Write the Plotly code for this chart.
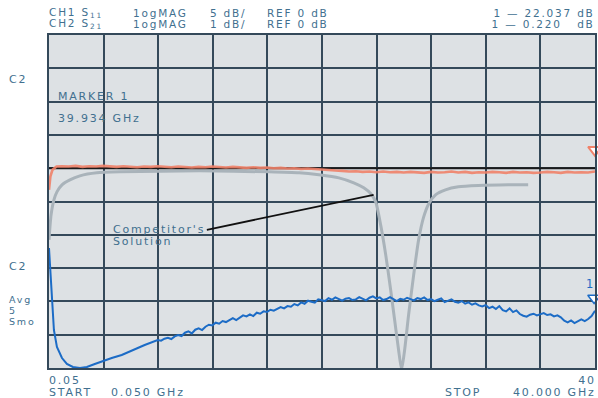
import plotly.graph_objects as go

# ---------------- data (x in GHz, y in screen divisions 0..10) ----------------
ref_level_div = 6.0

blue_x_start = [0.05, 0.12, 0.2, 0.27, 0.41, 0.63, 1.0, 1.36, 1.8, 2.31, 2.82, 3.4, 3.99, 4.64, 5.37, 6.17, 7.05]
blue_y_start = [3.60, 3.09, 2.49, 1.89, 1.14, 0.63, 0.30, 0.12, 0.03, 0.0, 0.03, 0.12, 0.21, 0.30, 0.39, 0.54, 0.69]
blue_sweep_start, blue_sweep_step = 8.0, 0.25
blue_y_sweep = [
    0.84, 0.82, 0.88, 0.91, 0.87, 0.95, 0.99, 0.96,
    1.06, 1.10, 1.04, 1.15, 1.19, 1.14, 1.24, 1.30,
    1.28, 1.36, 1.33, 1.41, 1.38, 1.45, 1.50, 1.44,
    1.52, 1.58, 1.55, 1.61, 1.56, 1.66, 1.63, 1.70,
    1.68, 1.75, 1.72, 1.78, 1.83, 1.79, 1.86, 1.84,
    1.92, 1.88, 1.97, 1.93, 2.02, 1.99, 1.96, 2.06,
    2.03, 2.01, 2.10, 2.05, 2.12, 2.07, 2.02, 2.08,
    2.10, 2.04, 2.06, 2.13, 2.08, 2.03, 2.11, 2.15,
    2.09, 2.12, 2.04, 2.07, 2.13, 2.06, 2.01, 2.08,
    2.05, 2.11, 2.06, 2.03, 2.10, 2.07, 2.12, 2.04,
    2.07, 2.01, 2.05, 2.09, 1.98, 2.02, 2.06, 1.99,
    1.96, 2.01, 1.93, 1.97, 1.90, 1.94, 1.88, 1.85,
    1.89, 1.80, 1.84, 1.77, 1.86, 1.74, 1.70, 1.79,
    1.68, 1.73, 1.62, 1.57, 1.54, 1.60, 1.63, 1.58,
    1.62, 1.65, 1.59, 1.61, 1.55, 1.58, 1.52, 1.42,
    1.37, 1.43, 1.35, 1.40, 1.46, 1.41, 1.47, 1.56,
    1.72,
]

red_x_start = [0.05, 0.15, 0.3, 0.6]
red_y_start = [5.35, 5.75, 5.95, 6.05]
red_sweep_start, red_sweep_step = 1.0, 0.5
red_y_sweep = [
    6.06, 6.05, 6.07, 6.04, 6.06, 6.05, 6.07, 6.05,
    6.04, 6.06, 6.05, 6.03, 6.05, 6.04, 6.06, 6.04,
    6.03, 6.05, 6.04, 6.02, 6.04, 6.03, 6.05, 6.03,
    6.02, 6.04, 6.02, 6.01, 6.03, 6.01, 6.02, 6.00,
    6.01, 5.99, 6.00, 5.98, 5.99, 5.97, 5.96, 5.94,
    5.93, 5.92, 5.90, 5.91, 5.89, 5.90, 5.88, 5.90,
    5.88, 5.89, 5.87, 5.89, 5.88, 5.86, 5.89, 5.87,
    5.88, 5.90, 5.87, 5.89, 5.86, 5.88, 5.87, 5.89,
    5.88, 5.86, 5.89, 5.87, 5.88, 5.86, 5.87, 5.89,
    5.88, 5.86, 5.89, 5.87, 5.88, 5.87, 5.90,
]

gray_x = [0.05, 0.2, 0.41, 0.63, 1.0, 1.58, 2.31, 3.55, 5.2, 11.06, 16.16, 18.35, 19.8, 21.26, 22.35,
          23.08, 23.6, 23.96, 24.32, 24.69, 25.05, 25.34, 25.63, 25.85, 26.07, 26.36, 26.73, 27.09,
          27.46, 27.82, 28.33, 29.06, 30.0, 31.46, 33.65, 35.11]
gray_y = [3.85, 4.59, 5.05, 5.29, 5.50, 5.65, 5.77, 5.86, 5.89, 5.92, 5.89, 5.86, 5.80, 5.71, 5.56,
          5.41, 5.23, 4.98, 4.29, 3.39, 2.34, 1.44, 0.54, -0.05, 0.54, 1.59, 2.79, 3.84,
          4.53, 4.92, 5.20, 5.35, 5.44, 5.48, 5.50, 5.50]

marker_freq = 39.934
blue_marker_div = 2.10
red_marker_freq = 40.0
red_marker_div = 6.55
pointer_x = [11.6, 23.8]
pointer_y = [4.15, 5.2]

start_label, stop_label = "0.05", "40"

# ---------------- build ----------------
blue_x = blue_x_start + [blue_sweep_start + blue_sweep_step * i for i in range(len(blue_y_sweep))]
blue_y = blue_y_start + blue_y_sweep
red_x = red_x_start + [red_sweep_start + red_sweep_step * i for i in range(len(red_y_sweep))]
red_y = red_y_start + red_y_sweep

TXT = "#41708f"
GRID = "#34495a"
BG = "#dde1e4"
FONT = "DejaVu Sans"

L, R, T, B = 49, 597, 35, 368


def pxx(x):
    return (x - L) / (R - L)


def pyy(y):
    return (B - y) / (B - T)


fig = go.Figure()

fig.add_trace(go.Scatter(x=gray_x, y=gray_y, mode="lines", line=dict(color="#a9b3ba", width=3, shape="spline", smoothing=0.6),
                         hoverinfo="skip", showlegend=False))
fig.add_trace(go.Scatter(x=[0.05, 40], y=[ref_level_div, ref_level_div], mode="lines",
                         line=dict(color="#1b1b1b", width=2), showlegend=False))
fig.add_trace(go.Scatter(x=red_x, y=red_y, mode="lines", line=dict(color="#f0826a", width=2.6),
                         opacity=0.9, showlegend=False))
fig.add_trace(go.Scatter(x=blue_x, y=blue_y, mode="lines", line=dict(color="#1c6cc6", width=2.0),
                         showlegend=False))
fig.add_trace(go.Scatter(x=pointer_x, y=pointer_y, mode="lines", line=dict(color="#111111", width=1.8),
                         showlegend=False))
fig.add_trace(go.Scatter(x=[marker_freq], y=[blue_marker_div], mode="markers",
                         marker=dict(symbol="triangle-down", size=11, color="white",
                                     line=dict(color="#1c6cc6", width=1.5)),
                         cliponaxis=False, showlegend=False))
fig.add_trace(go.Scatter(x=[red_marker_freq], y=[red_marker_div], mode="markers",
                         marker=dict(symbol="triangle-down", size=12, color="white",
                                     line=dict(color="#f0826a", width=2)),
                         cliponaxis=False, showlegend=False))

# boxes that hide the grid behind the marker readout and the label
shapes = [
    dict(type="rect", xref="paper", yref="paper", x0=pxx(50.5), x1=pxx(157), y0=pyy(134), y1=pyy(69),
         fillcolor=BG, line=dict(width=0), layer="between"),
    dict(type="rect", xref="paper", yref="paper", x0=pxx(107), x1=pxx(211), y0=pyy(250), y1=pyy(204),
         fillcolor=BG, line=dict(width=0), layer="between"),
]

ann = []


def text(x, y, s, anchor="left", size=11, color=TXT):
    ann.append(dict(xref="paper", yref="paper", x=pxx(x), y=pyy(y), text=s, showarrow=False,
                    xanchor=anchor, yanchor="middle", font=dict(color=color, size=size, family=FONT)))


for y, ch, sub, scale, mark in [(13, "CH1", "11", "5 dB/", "1 \u2014 22.037 dB"),
                                (24, "CH2", "21", "1 dB/", "1 \u2014 0.220   dB")]:
    text(47, y, f"{ch} S<sub>{sub}</sub>", size=10.5)
    text(131, y, "1ogMAG", size=10.5)
    text(209, y, scale, size=10.5)
    text(266, y, "REF 0 dB", size=10.5)
    text(597, y, mark, anchor="right", size=10.5)

text(7, 80, "C2")
text(56, 96, "MARKER 1")
text(56, 118, "39.934 GHz")
text(7, 266, "C2")
text(7, 299, "Avg", size=9.5)
text(7, 310, "5", size=9.5)
text(7, 321, "Smo", size=9.5)
text(111, 229, "Competitor's")
text(111, 241, "Solution")
text(47, 380, start_label)
text(47, 392, "START")
text(109, 392, "0.050 GHz")
text(598, 380, stop_label, anchor="right")
text(444, 392, "STOP")
text(598, 392, "40.000 GHz", anchor="right")
text(586, 284, "1", color="#1c6cc6", size=11.5)

fig.update_layout(
    width=598, height=398,
    margin=dict(l=L, r=598 - R, t=T, b=398 - B),
    paper_bgcolor="white", plot_bgcolor=BG,
    shapes=shapes, annotations=ann,
    xaxis=dict(range=[0.05, 40], tick0=0.05, dtick=3.995, showticklabels=False, ticks="",
               showgrid=True, gridcolor=GRID, gridwidth=1.6, zeroline=False,
               showline=True, linecolor=GRID, linewidth=2, mirror=True),
    yaxis=dict(range=[0, 10], tick0=0, dtick=1, showticklabels=False, ticks="",
               showgrid=True, gridcolor=GRID, gridwidth=1.6, zeroline=False,
               showline=True, linecolor=GRID, linewidth=2, mirror=True),
)

post = """
document.body.style.margin='0';document.body.style.padding='0';document.body.style.overflow='hidden';
var gd=document.getElementById('{plot_id}');
var anns=gd.layout.annotations||[];
gd.querySelectorAll('g.annotation').forEach(function(g,i){
  var idx=parseInt(g.getAttribute('data-index'));
  if(isNaN(idx)) idx=i;
  var t=g.querySelector('text.annotation-text'); if(!t) return;
  var a=anns[idx]; if(!a) return;
  var bb=t.getBBox();
  var sp=1.8;
  t.style.letterSpacing=sp+'px';
  if(a.xanchor==='right'){t.setAttribute('text-anchor','end');t.setAttribute('x',bb.x+bb.width+sp);}
  else {t.setAttribute('text-anchor','start');t.setAttribute('x',bb.x);}
});
"""

fig.write_html("out.html", config={"displayModeBar": False}, post_script=post)
